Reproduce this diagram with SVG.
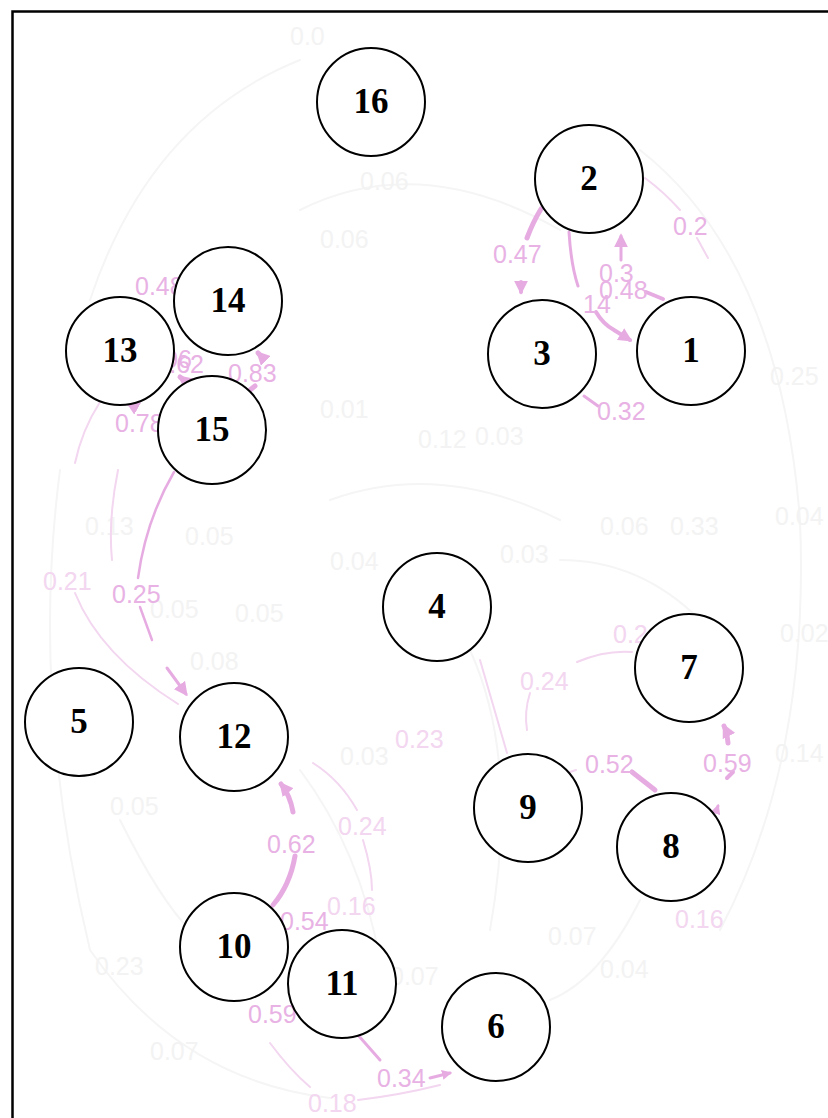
<svg xmlns="http://www.w3.org/2000/svg" width="828" height="1118" viewBox="0 0 828 1118">
<style>
.node circle{fill:#fff;stroke:#000;stroke-width:2}
.node text{font-family:"Liberation Serif","Times New Roman",serif;font-weight:bold;font-size:35px;text-anchor:middle;fill:#000}
.e{fill:none;stroke:#e6ace2;stroke-linecap:round}
.ef{fill:none;stroke:#f3d6f0;stroke-width:2;stroke-linecap:round}
.eg{fill:none;stroke:#f5f5f5;stroke-width:2;stroke-linecap:round}
.lb{font-family:"Liberation Sans",Arial,sans-serif;font-size:25px;fill:#e8b2e4}
.lf{font-family:"Liberation Sans",Arial,sans-serif;font-size:25px;fill:#f3d6f0}
.lg{font-family:"Liberation Sans",Arial,sans-serif;font-size:25px;fill:#f3f3f3}
</style>
<defs>
<marker id="ah" viewBox="0 0 10 10" refX="8" refY="5" markerWidth="14" markerHeight="14" markerUnits="userSpaceOnUse" orient="auto"><path d="M0,0 L10,5 L0,10 z" fill="#e6ace2"/></marker>
<marker id="ahs" viewBox="0 0 10 10" refX="8" refY="5" markerWidth="10" markerHeight="10" markerUnits="userSpaceOnUse" orient="auto"><path d="M0,0 L10,5 L0,10 z" fill="#e6ace2"/></marker>
</defs>
<rect width="828" height="1118" fill="#fff"/>
<path d="M12.5,1118 L12.5,11.5 L828,11.5" fill="none" stroke="#000" stroke-width="2.5"/>
<g id="faint">
<path class="eg" d="M300,60 Q150,120 90,300"/>
<path class="eg" d="M60,470 Q30,700 90,950 Q180,1080 330,1098"/>
<path class="eg" d="M640,150 Q780,260 800,520 Q810,760 720,930"/>
<path class="eg" d="M300,210 Q420,150 560,230"/>
<path class="eg" d="M330,500 Q440,460 560,520"/>
<path class="eg" d="M470,650 Q520,760 490,930"/>
<path class="eg" d="M300,770 Q360,850 380,960"/>
<path class="eg" d="M560,560 Q640,560 700,620"/>
<path class="eg" d="M640,900 Q600,980 550,1000"/>
<path class="eg" d="M120,820 Q160,900 190,930"/>
<text class="lg" x="290" y="45">0.0</text>
<text class="lg" x="360" y="190">0.06</text>
<text class="lg" x="320" y="248">0.06</text>
<text class="lg" x="85" y="535">0.13</text>
<text class="lg" x="185" y="545">0.05</text>
<text class="lg" x="150" y="618">0.05</text>
<text class="lg" x="235" y="622">0.05</text>
<text class="lg" x="330" y="570">0.04</text>
<text class="lg" x="320" y="418">0.01</text>
<text class="lg" x="418" y="448">0.12</text>
<text class="lg" x="475" y="445">0.03</text>
<text class="lg" x="500" y="563">0.03</text>
<text class="lg" x="600" y="535">0.06</text>
<text class="lg" x="670" y="535">0.33</text>
<text class="lg" x="770" y="385">0.25</text>
<text class="lg" x="775" y="525">0.04</text>
<text class="lg" x="780" y="642">0.02</text>
<text class="lg" x="775" y="762">0.14</text>
<text class="lg" x="340" y="765">0.03</text>
<text class="lg" x="110" y="815">0.05</text>
<text class="lg" x="190" y="670">0.08</text>
<text class="lg" x="548" y="945">0.07</text>
<text class="lg" x="600" y="978">0.04</text>
<text class="lg" x="390" y="985">0.07</text>
<text class="lg" x="95" y="975">0.23</text>
<text class="lg" x="150" y="1060">0.07</text>
</g>
<g id="connectors">
<path class="e" stroke-width="5" d="M541,209 Q533,222 527,238"/>
<path class="e" stroke-width="4" d="M521,282 L521,292" marker-end="url(#ah)"/>
<text class="lb" x="493" y="263">0.47</text>
<path class="e" stroke-width="3" d="M569,232 Q571,265 578,286"/>
<path class="e" stroke-width="4" d="M596,312 Q603,324 614,330 L630,340" marker-end="url(#ah)"/>
<text class="lb" x="583" y="313">14</text>
<path class="e" stroke-width="3" d="M621,260 L621,236" marker-end="url(#ah)"/>
<text class="lb" x="599" y="282">0.3</text>
<path class="e" stroke-width="4" d="M646,292 L663,299"/>
<text class="lb" x="599" y="299">0.48</text>
<path class="e" stroke-width="3" d="M584,396 L598,406"/>
<text class="lb" x="597" y="420">0.32</text>
<path class="ef" d="M645,178 Q664,192 680,210"/>
<path class="ef" d="M697,238 L708,258"/>
<text class="lb" x="673" y="235">0.2</text>
<text class="lb" x="135" y="295">0.48</text>
<path class="e" stroke-width="5" d="M262,357 L258,353" marker-end="url(#ah)"/>
<path class="e" stroke-width="5" d="M250,390 L255,386"/>
<text class="lb" x="228" y="382">0.83</text>
<path class="e" stroke-width="5" d="M185,381 L180,377" marker-end="url(#ah)"/>
<text class="lb" x="192" y="368" text-anchor="end">0.96</text>
<text class="lb" x="204" y="373" text-anchor="end">0.62</text>
<path class="e" stroke-width="5" d="M135,407 L128,403" marker-end="url(#ah)"/>
<text class="lb" x="115" y="432">0.78</text>
<path class="e" stroke-width="2.5" d="M174,472 Q146,520 138,578"/>
<path class="e" stroke-width="2.5" d="M140,607 L152,640"/>
<path class="e" stroke-width="3" d="M167,668 L186,694" marker-end="url(#ah)"/>
<text class="lb" x="112" y="603">0.25</text>
<path class="ef" d="M100,402 Q82,430 75,463"/>
<path class="ef" d="M75,593 Q100,655 178,704"/>
<text class="lf" x="43" y="590">0.21</text>
<path class="ef" d="M118,470 Q108,520 112,560"/>
<path class="e" stroke-width="5" d="M293,812 Q290,795 281,784" marker-end="url(#ah)"/>
<path class="e" stroke-width="5" d="M295,856 Q290,885 273,905"/>
<text class="lb" x="267" y="853">0.62</text>
<text class="lb" x="280" y="930">0.54</text>
<path class="ef" d="M313,763 Q340,780 357,810"/>
<path class="ef" d="M363,840 Q372,870 372,890"/>
<text class="lf" x="338" y="835">0.24</text>
<text class="lf" x="327" y="915">0.16</text>
<text class="lb" x="248" y="1023">0.59</text>
<path class="ef" d="M270,1043 Q290,1070 310,1087"/>
<path class="e" stroke-width="3" d="M358,1035 L380,1060"/>
<path class="e" stroke-width="3" d="M430,1078 L450,1073" marker-end="url(#ahs)"/>
<text class="lb" x="377" y="1087">0.34</text>
<path class="ef" d="M358,1100 Q400,1095 440,1085"/>
<text class="lf" x="308" y="1112">0.18</text>
<path class="e" stroke-width="5" d="M632,772 L655,790"/>
<path class="ef" d="M570,772 L576,770"/>
<text class="lb" x="585" y="773">0.52</text>
<path class="e" stroke-width="5" d="M728,743 Q727,732 724,726" marker-end="url(#ah)"/>
<path class="e" stroke-width="4" d="M727,778 L733,772"/>
<path class="e" stroke-width="3" d="M716,812 L718,806" marker-end="url(#ahs)"/>
<text class="lb" x="703" y="772">0.59</text>
<text class="lf" x="675" y="928">0.16</text>
<path class="ef" d="M577,662 Q605,650 632,652"/>
<path class="ef" d="M530,693 Q524,712 527,730"/>
<text class="lf" x="520" y="690">0.24</text>
<text class="lf" x="613" y="643">0.2</text>
<path class="ef" d="M507,753 L480,660"/>
<text class="lf" x="395" y="748">0.23</text>
</g>
<g id="n1" class="node"><circle cx="691" cy="351" r="54"/><text x="691" y="362">1</text></g>
<g id="n2" class="node"><circle cx="589" cy="179" r="54"/><text x="589" y="190">2</text></g>
<g id="n3" class="node"><circle cx="542" cy="354" r="54"/><text x="542" y="365">3</text></g>
<g id="n4" class="node"><circle cx="437" cy="607" r="54"/><text x="437" y="618">4</text></g>
<g id="n5" class="node"><circle cx="79" cy="722" r="54"/><text x="79" y="733">5</text></g>
<g id="n6" class="node"><circle cx="496" cy="1027" r="54"/><text x="496" y="1038">6</text></g>
<g id="n7" class="node"><circle cx="689" cy="668" r="54"/><text x="689" y="679">7</text></g>
<g id="n8" class="node"><circle cx="671" cy="847" r="54"/><text x="671" y="858">8</text></g>
<g id="n9" class="node"><circle cx="528" cy="808" r="54"/><text x="528" y="819">9</text></g>
<g id="n10" class="node"><circle cx="234" cy="947" r="54"/><text x="234" y="958">10</text></g>
<g id="n11" class="node"><circle cx="342" cy="984" r="54"/><text x="342" y="995">11</text></g>
<g id="n12" class="node"><circle cx="234" cy="737" r="54"/><text x="234" y="748">12</text></g>
<g id="n13" class="node"><circle cx="120" cy="351" r="54"/><text x="120" y="362">13</text></g>
<g id="n14" class="node"><circle cx="228" cy="301" r="54"/><text x="228" y="312">14</text></g>
<g id="n15" class="node"><circle cx="212" cy="430" r="54"/><text x="212" y="441">15</text></g>
<g id="n16" class="node"><circle cx="371" cy="102" r="54"/><text x="371" y="113">16</text></g>
</svg>
